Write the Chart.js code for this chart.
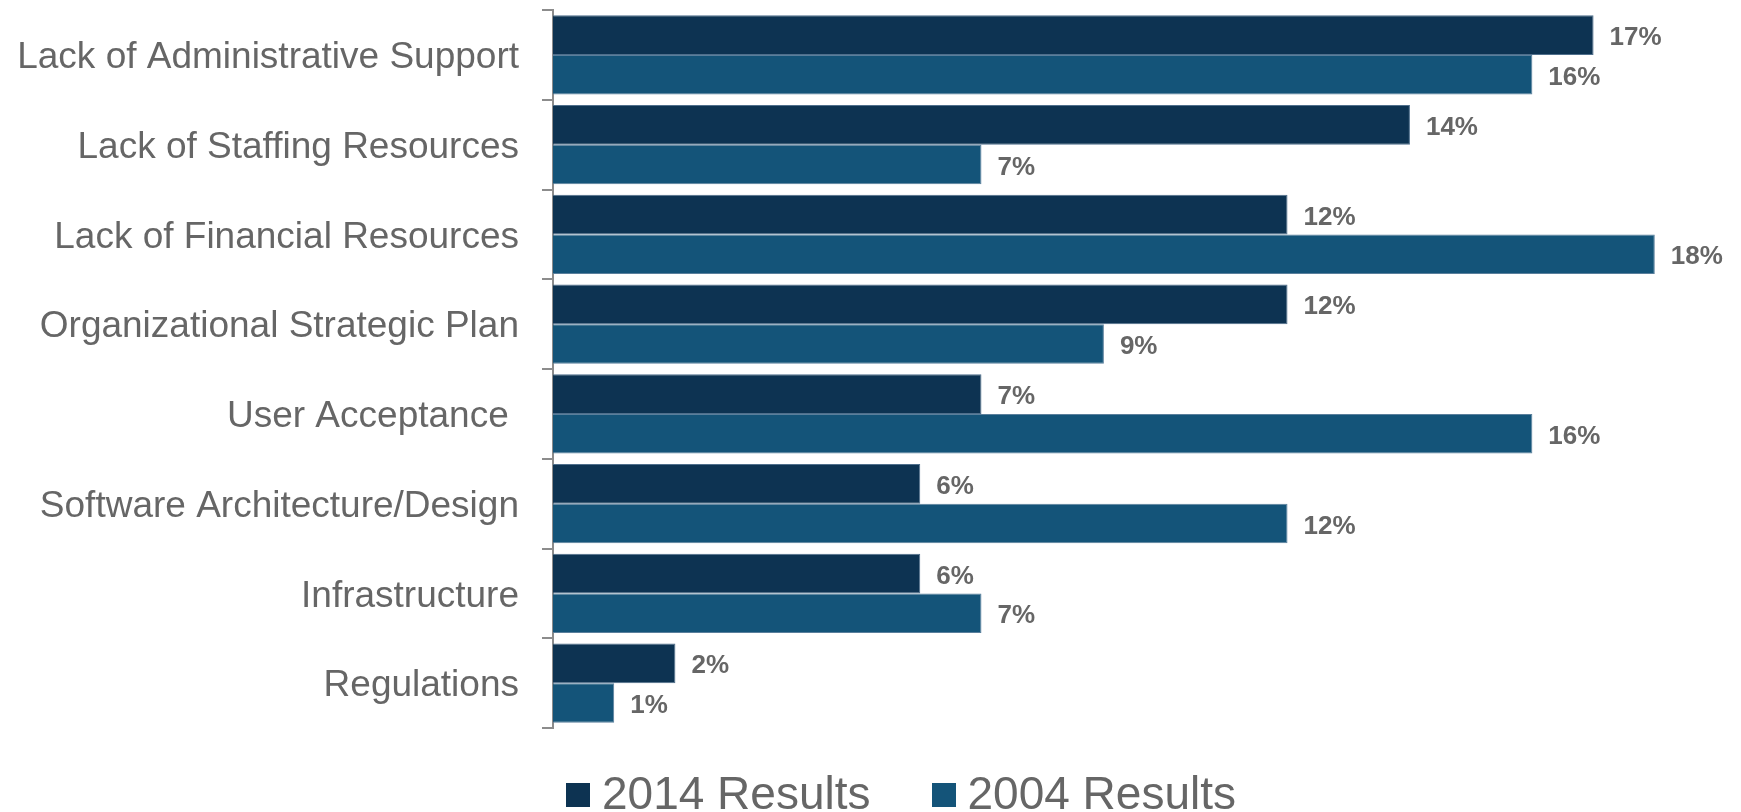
<!DOCTYPE html>
<html>
<head>
<meta charset="utf-8">
<title>Barriers chart</title>
<script src="https://cdn.jsdelivr.net/npm/chart.js@4.4.1/dist/chart.umd.min.js"></script>
<style>
  body { margin: 0; background: #fff; overflow: hidden; }
  #wrap { position: relative; width: 1741px; height: 812px; }
  #legend {
    position: absolute; left: 566px; top: 770px;
    display: flex; align-items: center;
    font-family: "Liberation Sans", Arial, sans-serif;
    font-size: 46px; line-height: 46px; color: #666;
  }
  .item { display: flex; align-items: center; }
  .item + .item { margin-left: 61px; }
  .swatch { width: 24px; height: 24px; margin-right: 12px; position: relative; top: 2px; }
</style>
</head>
<body>
<div id="wrap">
  <canvas id="barChart" width="1741" height="812"></canvas>
  <div id="legend"></div>
</div>
<script>
const categories = [
  "Lack of Administrative Support",
  "Lack of Staffing Resources",
  "Lack of Financial Resources",
  "Organizational Strategic Plan",
  "User Acceptance ",
  "Software Architecture/Design",
  "Infrastructure",
  "Regulations",
];
const results2014 = [17, 14, 12, 12, 7, 6, 6, 2];
const results2004 = [16, 7, 18, 9, 16, 12, 7, 1];
const seriesNames = ["2014 Results", "2004 Results"];
const seriesColors = ["#0d3352", "#145479"];

Chart.defaults.font.family = '"Liberation Sans", Arial, sans-serif';

// draws the "17%" style labels at the end of each bar
const valueLabels = {
  id: "valueLabels",
  afterDatasetsDraw(chart) {
    const ctx = chart.ctx;
    ctx.save();
    ctx.font = 'bold 26px "Liberation Sans", Arial, sans-serif';
    ctx.fillStyle = "#666";
    ctx.textAlign = "left";
    ctx.textBaseline = "middle";
    chart.data.datasets.forEach((ds, i) => {
      chart.getDatasetMeta(i).data.forEach((bar, j) => {
        ctx.fillText(ds.data[j] + "%", bar.x + 16, bar.y + 3);
      });
    });
    ctx.restore();
  },
};

const ctx = document.getElementById("barChart").getContext("2d");
new Chart(ctx, {
  type: "bar",
  data: {
    labels: categories,
    datasets: [
      {
        label: seriesNames[0],
        data: results2014,
        backgroundColor: seriesColors[0],
        borderColor: "#4f6f8c",
        borderWidth: 1,
        categoryPercentage: 0.885,
        barPercentage: 1,
      },
      {
        label: seriesNames[1],
        data: results2004,
        backgroundColor: seriesColors[1],
        borderColor: "#5a7f9c",
        borderWidth: 1,
        categoryPercentage: 0.885,
        barPercentage: 1,
      },
    ],
  },
  options: {
    indexAxis: "y",
    responsive: false,
    animation: false,
    layout: {
      padding: { top: 10, bottom: 84, left: 0, right: 25 },
    },
    plugins: {
      legend: { display: false },
      tooltip: { enabled: false },
    },
    scales: {
      x: {
        display: false,
        min: 0,
        max: 19,
      },
      y: {
        grid: {
          offset: true,
          drawOnChartArea: false,
          tickLength: 11,
          color: "#8c8c8c",
          lineWidth: 2,
        },
        border: { color: "#8c8c8c", width: 2 },
        ticks: {
          color: "#666",
          padding: 23,
          labelOffset: 3,
          font: { size: 37 },
        },
        afterFit(scale) {
          scale.width = 553;
          // labels sit inside the category bands, no extra room needed
          scale.paddingTop = 0;
          scale.paddingBottom = 0;
        },
      },
    },
  },
  plugins: [valueLabels],
});

// Legend as html under the chart
const legend = document.getElementById("legend");
seriesNames.forEach((name, i) => {
  const item = document.createElement("div");
  item.className = "item";
  item.innerHTML = `<span class="swatch" style="background:${seriesColors[i]}"></span><span>${name}</span>`;
  legend.appendChild(item);
});
</script>
</body>
</html>
